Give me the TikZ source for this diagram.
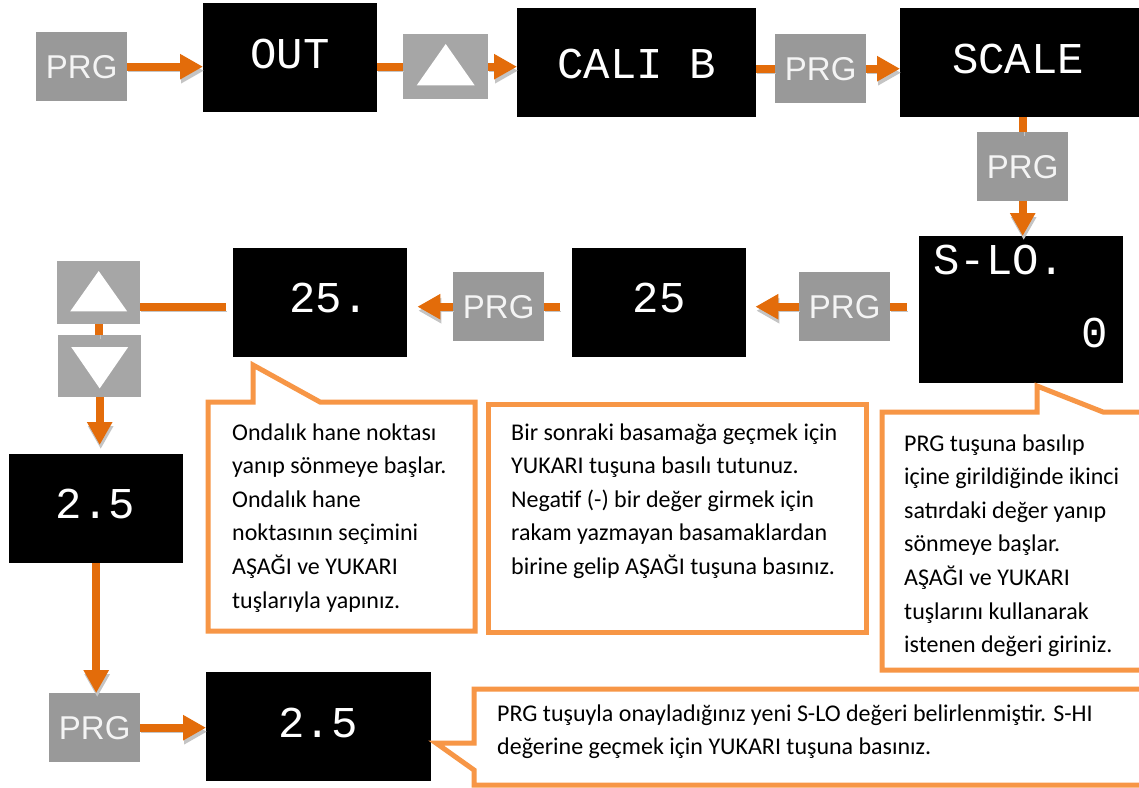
\documentclass[tikz,border=0pt]{standalone}
\usepackage{fontspec}
\setmainfont{Carlito}
\newfontfamily\keyfam{Liberation Sans}
\newfontfamily\segfam{Liberation Mono}
\usetikzlibrary{arrows.meta,calc}
\definecolor{flowOrange}{HTML}{E36C0A}
\definecolor{noteOrange}{HTML}{F79646}
\definecolor{prgGray}{HTML}{999999}
\definecolor{keyGray}{HTML}{A6A6A6}
\definecolor{shadeGray}{HTML}{C4C4C4}
\definecolor{keyText}{HTML}{F4F4F4}
\begin{document}
\begin{tikzpicture}[x=1pt,y=-1pt,
  prg/.style={fill=prgGray, text=keyText, font=\keyfam\fontsize{33}{33}\selectfont,
    minimum width=91pt, minimum height=69pt, inner sep=0pt, anchor=north west},
  keybox/.style={fill=keyGray, inner sep=0pt, anchor=north west},
  disp/.style={fill=black, inner sep=0pt, anchor=north west},
  seg/.style={text=white, font=\segfam\fontsize{44}{44}\selectfont, inner sep=0pt},
  flow/.style={draw=flowOrange, line width=8pt,
    preaction={draw=shadeGray, transform canvas={xshift=1pt,yshift=-4pt}}},
  flowarr/.style={draw=flowOrange, line width=8pt, -{Triangle[length=23pt,width=24pt]},
    preaction={draw=shadeGray, -{Triangle[length=23pt,width=24pt]},
      transform canvas={xshift=1pt,yshift=-4pt}}},
  note/.style={draw=noteOrange, line width=5pt, fill=white},
  % multi-line nodes: the base anchor sits on the last line's baseline
  notetext/.style={font=\fontsize{24}{33.6}\selectfont, align=left, inner sep=0pt, anchor=base west}
]
\useasboundingbox[fill=white] (0,0) rectangle (1139,787);

% ---- top row ----
\node[prg] (p1) at (36,32) {PRG};
\node[disp, minimum width=174pt, minimum height=109pt] (dOut) at (203,3) {};
\node[keybox, minimum width=85pt, minimum height=65pt] (up1) at (403,34) {};
\node[disp, minimum width=239pt, minimum height=109pt] (dCali) at (517,8) {};
\node[prg] (p2) at (775,34) {PRG};
\node[disp, minimum width=239pt, minimum height=109pt] (dScale) at (900,8) {};
\node[prg] (p3) at (977,132) {PRG};
\node[disp, minimum width=204pt, minimum height=147pt] (dSlo) at (919,236) {};

% ---- second row ----
\node[prg] (p4) at (799,272) {PRG};
\node[disp, minimum width=174pt, minimum height=109pt] (d25) at (572,248) {};
\node[prg] (p5) at (453,272) {PRG};
\node[disp, minimum width=174pt, minimum height=109pt] (d25dot) at (233,248) {};
\node[keybox, minimum width=83pt, minimum height=63pt] (up2) at (57,261) {};
\node[keybox, minimum width=83pt, minimum height=62pt] (dn) at (58,335) {};

% ---- left column and bottom row ----
\node[disp, minimum width=174pt, minimum height=109pt] (d2a) at (9,454) {};
\node[prg] (p6) at (49,693) {PRG};
\node[disp, minimum width=225pt, minimum height=109pt] (d2b) at (206,672) {};

% ---- key symbols ----
\fill[white] ($(up1.north)+(0,10)$) -- ($(up1.south)+(29,-14)$) -- ($(up1.south)+(-29,-14)$) -- cycle;
\fill[white] ($(up2.north)+(0,10)$) -- ($(up2.south)+(28.5,-13)$) -- ($(up2.south)+(-28.5,-13)$) -- cycle;
\fill[white] ($(dn.north)+(-28.5,12)$) -- ($(dn.north)+(28.5,12)$) -- ($(dn.south)+(0,-9)$) -- cycle;

% ---- display readings ----
\node[seg] (tOut) at (290,53.5) {OUT};
\node[seg] (tCali) at (636.5,64) {CALI B};
\node[seg] (tScale) at (1018,58.5) {SCALE};
\node[seg, anchor=west] (tSlo) at (933,260) {S-LO.};
\node[seg, anchor=east] (tZero) at (1108,333) {0};
\node[seg] (t25) at (659,297.5) {25};
\node[seg, anchor=west] (t25dot) at (289,297.5) {25.};
\node[seg] (t2a) at (95.5,504) {2.5};
\node[seg] (t2b) at (318,722.5) {2.5};

% ---- flow connectors ----
\draw[flowarr] (p1.east) -- (p1.east -| dOut.west);
\draw[flow] (up1.west -| dOut.east) -- (up1.west);
\draw[flowarr] (up1.east) -- (up1.east -| dCali.west);
\draw[flow] (p2.west -| dCali.east) -- (p2.west);
\draw[flowarr] (p2.east) -- (p2.east -| dScale.west);
\draw[flow] (p3.north |- dScale.south) -- (p3.north);
\draw[flowarr] (p3.south) -- (p3.south |- dSlo.north);
\draw[flow] ($(p4.east -| dSlo.west)+(-12,0)$) -- (p4.east);
\draw[flowarr] (p4.west) -- ($(p4.west -| d25.east)+(9,0)$);
\draw[flow] ($(p5.east -| d25.west)+(-12,0)$) -- (p5.east);
\draw[flowarr] (p5.west) -- ($(p5.west -| d25dot.east)+(10,0)$);
\draw[flow] ($(p5.west -| d25dot.west)+(-7,0)$) -- (p5.west -| up2.east);
\draw[flow] (up2.south) -- (up2.south |- dn.north);
\draw[flowarr] (dn.south) -- ($(dn.south |- d2a.north)+(0,-9)$);
\draw[flowarr] (d2a.south) -- (d2a.south |- p6.north);
\draw[flowarr] (p6.east) -- (p6.east -| d2b.west);

% ---- callouts ----
\draw[note] (208,402) -- (253,402) -- (253,365) -- (320,402) -- (475,402) -- (475,631) -- (208,631) -- cycle;
\draw[note] (488,404) rectangle (866,632);
\draw[note] (882,412) -- (1037,412) -- (1037,386) -- (1103,412) -- (1150,412) -- (1150,670) -- (882,670) -- cycle;
\draw[note] (474,689) -- (1150,689) -- (1150,785) -- (474,785) -- (474,770) -- (436,743) -- (474,743) -- cycle;

\node[notetext] (n1) at (232,608) {Ondalık hane noktası\\yanıp sönmeye başlar.\\Ondalık hane\\noktasının seçimini\\AŞAĞI ve YUKARI\\tuşlarıyla yapınız.};
\node[notetext] (n2) at (511,574.4) {Bir sonraki basamağa geçmek için\\YUKARI tuşuna basılı tutunuz.\\Negatif (-) bir değer girmek için\\rakam yazmayan basamaklardan\\birine gelip AŞAĞI tuşuna basınız.};
\node[notetext] (n3) at (904,652.6) {PRG tuşuna basılıp\\içine girildiğinde ikinci\\satırdaki değer yanıp\\sönmeye başlar.\\AŞAĞI ve YUKARI\\tuşlarını kullanarak\\istenen değeri giriniz.};
\node[notetext] (n4) at (497,754.6) {PRG tuşuyla onayladığınız yeni S-LO değeri belirlenmiştir. S-HI\\değerine geçmek için YUKARI tuşuna basınız.};
\end{tikzpicture}
\end{document}
